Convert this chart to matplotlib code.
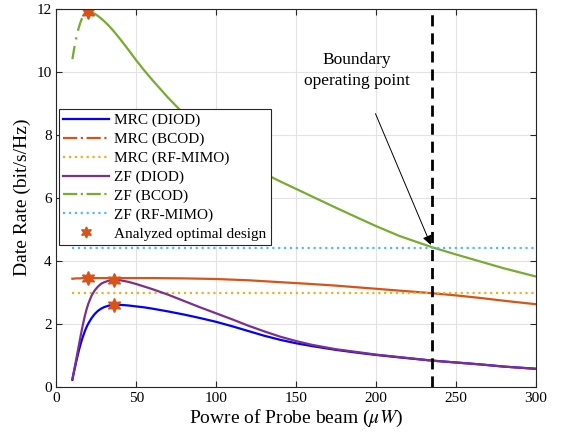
import numpy as np
import matplotlib
matplotlib.use("Agg")
import matplotlib.pyplot as plt
from matplotlib.lines import Line2D

plt.rcParams['font.family'] = ['Liberation Serif', 'DejaVu Serif']
plt.rcParams['mathtext.fontset'] = 'stix'

# probe beam power (uW)
power = [10, 11, 12, 13, 14, 15, 16, 17, 18, 19, 20, 22, 24, 26, 28, 30, 33, 36,
         40, 45, 50, 55, 60, 70, 80, 90, 100, 110, 120, 130, 140, 150, 160, 175,
         190, 200, 215, 235, 250, 265, 280, 300]

mrc_diod = [0.22, 0.47, 0.70, 0.93, 1.14, 1.33, 1.50, 1.65, 1.79, 1.91, 2.01, 2.18,
            2.31, 2.41, 2.48, 2.53, 2.58, 2.60, 2.60, 2.58, 2.55, 2.52, 2.48, 2.39,
            2.29, 2.18, 2.06, 1.92, 1.77, 1.62, 1.49, 1.38, 1.29, 1.17, 1.07, 1.01,
            0.93, 0.83, 0.77, 0.71, 0.64, 0.57]
mrc_bcod = [3.43, 3.43, 3.44, 3.44, 3.44, 3.44, 3.45, 3.45, 3.45, 3.45, 3.45, 3.45,
            3.45, 3.45, 3.45, 3.45, 3.45, 3.45, 3.45, 3.45, 3.45, 3.45, 3.45, 3.445,
            3.44, 3.43, 3.42, 3.40, 3.38, 3.35, 3.32, 3.29, 3.26, 3.21, 3.15, 3.11,
            3.05, 2.97, 2.90, 2.82, 2.73, 2.62]
mrc_rf = 2.97
zf_diod = [0.25, 0.50, 0.76, 1.03, 1.30, 1.57, 1.83, 2.07, 2.29, 2.48, 2.64, 2.89,
           3.06, 3.18, 3.27, 3.32, 3.37, 3.40, 3.38, 3.33, 3.26, 3.18, 3.10, 2.92,
           2.72, 2.52, 2.33, 2.14, 1.94, 1.76, 1.59, 1.45, 1.33, 1.19, 1.09, 1.02,
           0.94, 0.83, 0.77, 0.71, 0.64, 0.57]
zf_bcod = [10.40, 10.70, 10.97, 11.20, 11.40, 11.56, 11.69, 11.79, 11.86, 11.90,
           11.91, 11.89, 11.84, 11.77, 11.69, 11.60, 11.45, 11.28, 11.03, 10.70,
           10.36, 10.04, 9.74, 9.17, 8.65, 8.18, 7.76, 7.39, 7.06, 6.77, 6.52, 6.28,
           6.04, 5.68, 5.33, 5.10, 4.78, 4.43, 4.20, 3.98, 3.76, 3.50]
zf_rf = 4.42

opt_x = [20, 20, 36, 36]
opt_y = [11.9, 3.45, 3.40, 2.61]

boundary_x = 235

c_blue = '#0000FF'
c_red = '#D95319'
c_yel = '#EDB120'
c_pur = '#7E2F8E'
c_grn = '#77AC30'
c_cyan = '#4DBEEE'

fig, ax = plt.subplots(figsize=(5.64, 4.37), dpi=100)
fig.subplots_adjust(left=0.1, right=0.95, top=0.98, bottom=0.115)

lw = 1.6
ax.plot(power, mrc_diod, color=c_blue, lw=lw)
ax.plot(power, mrc_bcod, color=c_red, lw=lw)
ax.plot([power[0], power[-1]], [mrc_rf, mrc_rf], color=c_yel, lw=lw, ls=':')
ax.plot(power, zf_diod, color=c_pur, lw=lw)
ax.plot(power[:11], zf_bcod[:11], color=c_grn, lw=lw, ls=(0, (6, 3, 1, 3)))
ax.plot(power[10:], zf_bcod[10:], color=c_grn, lw=lw)
ax.plot([power[0], power[-1]], [zf_rf, zf_rf], color=c_cyan, lw=lw, ls=':')

star = (6, 1, 0)
ax.plot(opt_x, opt_y, ls='none', marker=star, ms=10, color=c_red, mec=c_red)

ax.axvline(boundary_x, color='k', lw=2, ls=(0, (4, 2.5)))

ax.text(188, 10.05, 'Boundary\noperating point', ha='center', va='center',
        fontsize=12.5, linespacing=1.4)
ax.annotate('', xy=(boundary_x, zf_rf), xytext=(199, 8.75),
            arrowprops=dict(arrowstyle='-|>', lw=0.7, color='k', mutation_scale=14))

ax.set_xlim(0, 300)
ax.set_ylim(0, 12)
ax.set_xticks(np.arange(0, 301, 50))
ax.set_yticks(np.arange(0, 13, 2))
ax.grid(True, color='#e3e3e3', lw=0.8)
ax.set_axisbelow(True)
ax.tick_params(direction='in', top=True, right=True, labelsize=11, color='#262626',
               length=4)
for s in ax.spines.values():
    s.set_color('#262626')
    s.set_linewidth(0.8)

ax.set_xlabel(r'Powre of Probe beam ($\mu W$)', fontsize=14, labelpad=2)
ax.set_ylabel('Date Rate (bit/s/Hz)', fontsize=14, labelpad=4)

handles = [
    Line2D([], [], color=c_blue, lw=lw),
    Line2D([], [], color=c_red, lw=lw, ls='-.'),
    Line2D([], [], color=c_yel, lw=lw, ls=':'),
    Line2D([], [], color=c_pur, lw=lw),
    Line2D([], [], color=c_grn, lw=lw, ls='-.'),
    Line2D([], [], color=c_cyan, lw=lw, ls=':'),
    Line2D([], [], ls='none', marker=star, ms=8, color=c_red),
]
labels = ['MRC (DIOD)', 'MRC (BCOD)', 'MRC (RF-MIMO)', 'ZF (DIOD)', 'ZF (BCOD)',
          'ZF (RF-MIMO)', 'Analyzed optimal design']
leg = ax.legend(handles, labels, loc='upper left', bbox_to_anchor=(0.005, 0.735),
                fontsize=11, handlelength=3, labelspacing=0.33, borderpad=0.3,
                handletextpad=0.3, fancybox=False, framealpha=1, borderaxespad=0)
leg.get_frame().set_edgecolor('#262626')
leg.get_frame().set_linewidth(0.8)

fig.savefig('out.png', dpi=100)
